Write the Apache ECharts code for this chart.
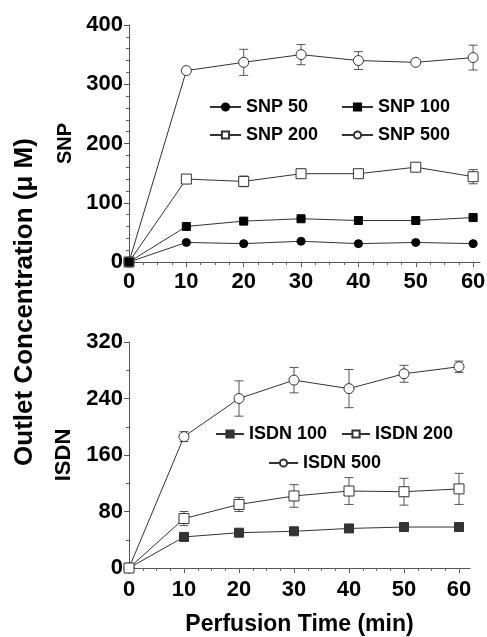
<!DOCTYPE html>
<html>
<head>
<meta charset="utf-8">
<script src="https://cdn.jsdelivr.net/npm/echarts@6/dist/echarts.min.js"></script>
<style>
html,body{margin:0;padding:0;background:#fff;}
#chart{width:487px;height:637px;}
</style>
</head>
<body>
<div id="chart"></div>
<script>
// ---- data ----
const timeMin = [0, 10, 20, 30, 40, 50, 60];
const xMajorTicks = [0, 10, 20, 30, 40, 50, 60];
const xMinorTicks = [0, 2.5, 5, 7.5, 10, 12.5, 15, 17.5, 20, 22.5, 25, 27.5, 30, 32.5, 35, 37.5, 40, 42.5, 45, 47.5, 50, 52.5, 55, 57.5, 60];

const snp50 = [0, 33, 31, 35, 31, 33, 31];
const snp100 = [0, 60, 69, 73, 70, 70, 75];
const snp200 = [0, 140, 136, 149, 149, 160, 144];
const snp500 = [0, 323, 337, 350, 340, 337, 345];
const snp50Err = [0, 2, 2, 2, 2, 2, 2];
const snp100Err = [0, 2, 3, 2, 2, 2, 3];
const snp200Err = [0, 4, 9, 4, 4, 4, 12];
const snp500Err = [0, 3, 22, 17, 15, 3, 21];

const isdn100 = [0, 44, 50, 52, 56, 58, 58];
const isdn200 = [0, 70, 90, 102, 109, 108, 112];
const isdn500 = [0, 186, 240, 266, 254, 275, 285];
const isdn100Err = [0, 4, 4, 4, 4, 4, 4];
const isdn200Err = [0, 10, 10, 16, 19, 19, 22];
const isdn500Err = [0, 7, 25, 18, 27, 12, 8];

const FONT = 'Liberation Sans, Arial, Helvetica, sans-serif';
const LINE = '#333';

function pairs(vals) { return timeMin.map((t, i) => [t, vals[i]]); }
function errData(vals, errs) { return timeMin.map((t, i) => [t, vals[i] - errs[i], vals[i] + errs[i]]); }

function renderErr(params, api) {
  const x = api.value(0), lo = api.value(1), hi = api.value(2);
  const p1 = api.coord([x, hi]);
  const p2 = api.coord([x, lo]);
  const w = 4.5;
  const st = { stroke: '#555', lineWidth: 1 };
  return {
    type: 'group',
    children: [
      { type: 'line', shape: { x1: p1[0], y1: p1[1], x2: p2[0], y2: p2[1] }, style: st },
      { type: 'line', shape: { x1: p1[0] - w, y1: p1[1], x2: p1[0] + w, y2: p1[1] }, style: st },
      { type: 'line', shape: { x1: p2[0] - w, y1: p2[1], x2: p2[0] + w, y2: p2[1] }, style: st }
    ]
  };
}

function errSeries(vals, errs, xi, yi) {
  return {
    type: 'custom', xAxisIndex: xi, yAxisIndex: yi, z: 1,
    renderItem: renderErr, data: errData(vals, errs),
    encode: { x: 0, y: [1, 2] }, silent: true
  };
}

function lineSeries(name, vals, xi, yi, symbol, size, filled, fillColor, z) {
  return {
    name: name, type: 'line', xAxisIndex: xi, yAxisIndex: yi, z: z || 2,
    data: pairs(vals), symbol: symbol, symbolSize: size, showSymbol: true,
    lineStyle: { color: LINE, width: 1 },
    itemStyle: filled ? { color: fillColor, borderColor: fillColor, borderWidth: 1 }
                      : { color: '#fff', borderColor: LINE, borderWidth: 1 },
    emphasis: { disabled: true }
  };
}

const tickLabel = { fontSize: 22, fontWeight: 'bold', color: '#000', fontFamily: FONT };

function majorX(grid, max, margin, name) {
  const ax = {
    type: 'value', gridIndex: grid, min: 0, max: max, position: 'bottom',
    splitLine: { show: false },
    axisLine: { onZero: false, lineStyle: { color: '#555', width: 1 } },
    axisTick: { show: true, length: 5, lineStyle: { color: '#555' }, customValues: xMajorTicks },
    axisLabel: Object.assign({ margin: margin, customValues: xMajorTicks }, tickLabel)
  };
  if (name) {
    ax.name = name;
    ax.nameLocation = 'middle';
    ax.nameGap = 45;
    ax.nameTextStyle = { fontSize: 23, fontWeight: 'bold', color: '#000', fontFamily: FONT };
  }
  return ax;
}
function minorX(grid, max) {
  return {
    type: 'value', gridIndex: grid, min: 0, max: max, position: 'bottom',
    splitLine: { show: false },
    axisLine: { show: false, onZero: false },
    axisTick: { show: true, length: 3, lineStyle: { color: '#666' }, customValues: xMinorTicks },
    axisLabel: { show: false }
  };
}
function yAx(grid, max, interval, split, name, nameSize, gap) {
  return {
    type: 'value', gridIndex: grid, min: 0, max: max, interval: interval,
    splitLine: { show: false },
    axisLine: { show: true, lineStyle: { color: '#555', width: 1 } },
    axisTick: { show: true, length: 5, lineStyle: { color: '#555' } },
    minorTick: { show: true, splitNumber: split, length: 3, lineStyle: { color: '#666' } },
    minorSplitLine: { show: false },
    axisLabel: Object.assign({ margin: 6 }, tickLabel),
    name: name, nameLocation: 'middle', nameGap: gap, nameRotate: 90,
    nameTextStyle: { fontSize: nameSize, fontWeight: 'bold', color: '#000', fontFamily: FONT }
  };
}

const legendText = { fontSize: 18, fontWeight: 'bold', color: '#000', fontFamily: FONT, lineHeight: 18 };

const option = {
  animation: false,
  backgroundColor: '#fff',
  grid: [
    { left: 129, top: 25, width: 351, height: 237, containLabel: false, outerBoundsMode: 'none' },
    { left: 129, top: 342, width: 341, height: 226, containLabel: false, outerBoundsMode: 'none' }
  ],
  xAxis: [
    majorX(0, 61.2, 9, null),
    minorX(0, 61.2),
    majorX(1, 62, 11, 'Perfusion Time (min)'),
    minorX(1, 62)
  ],
  yAxis: [
    yAx(0, 400, 100, 5, 'SNP', 20, 46),
    yAx(1, 320, 80, 2, 'ISDN', 22, 45)
  ],
  legend: [
    {
      data: ['SNP 50', 'SNP 100', 'SNP 200', 'SNP 500'],
      left: 209, top: 98, width: 262, orient: 'horizontal', padding: 0,
      itemWidth: 31, itemHeight: 9, itemGap: 10,
      textStyle: Object.assign({ width: 85 }, legendText), selectedMode: false
    },
    {
      data: ['ISDN 100', 'ISDN 200'],
      left: 215, top: 425, orient: 'horizontal', padding: 0,
      itemWidth: 28, itemHeight: 9, itemGap: 14,
      textStyle: legendText, selectedMode: false
    },
    {
      data: ['ISDN 500'],
      left: 268, top: 454, orient: 'horizontal', padding: 0,
      itemWidth: 29, itemHeight: 9, itemGap: 14,
      textStyle: legendText, selectedMode: false
    }
  ],
  graphic: [
    {
      type: 'text', x: 25, y: 302, rotation: Math.PI / 2,
      style: {
        text: 'Outlet Concentration (\u03bc M)', fontSize: 26, fontWeight: 'bold',
        fontFamily: FONT, fill: '#000', align: 'center', verticalAlign: 'middle'
      }
    }
  ],
  series: [
    errSeries(snp500, snp500Err, 0, 0),
    errSeries(snp200, snp200Err, 0, 0),
    errSeries(snp100, snp100Err, 0, 0),
    errSeries(snp50, snp50Err, 0, 0),
    lineSeries('SNP 50', snp50, 0, 0, 'circle', 8, true, '#000', 2),
    lineSeries('SNP 200', snp200, 0, 0, 'rect', 10, false, null, 2),
    lineSeries('SNP 500', snp500, 0, 0, 'circle', 10, false, null, 2),
    lineSeries('SNP 100', snp100, 0, 0, 'rect', 8, true, '#000', 3),

    errSeries(isdn500, isdn500Err, 2, 1),
    errSeries(isdn200, isdn200Err, 2, 1),
    errSeries(isdn100, isdn100Err, 2, 1),
    lineSeries('ISDN 100', isdn100, 2, 1, 'rect', 9, true, '#333', 2),
    lineSeries('ISDN 500', isdn500, 2, 1, 'circle', 10, false, null, 2),
    lineSeries('ISDN 200', isdn200, 2, 1, 'rect', 10, false, null, 3)
  ]
};

const chart = echarts.init(document.getElementById('chart'), null, { renderer: 'canvas' });
chart.setOption(option);
</script>
</body>
</html>
